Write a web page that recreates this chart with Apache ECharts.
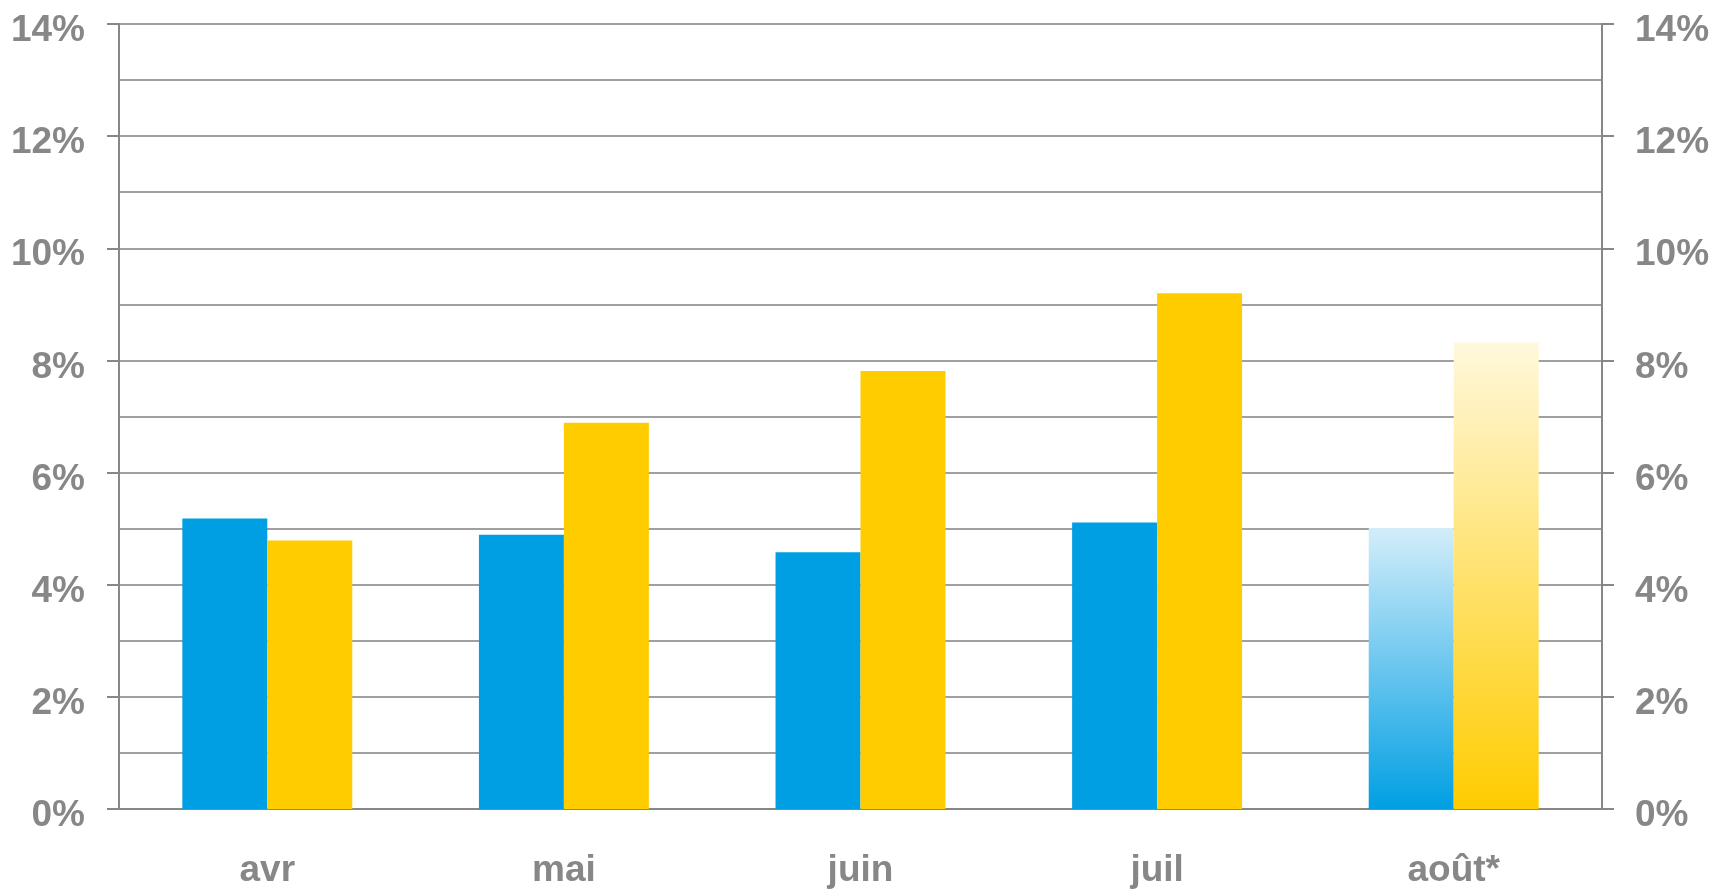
<!DOCTYPE html>
<html>
<head>
<meta charset="utf-8">
<script src="https://cdn.jsdelivr.net/npm/echarts@6/dist/echarts.min.js"></script>
<style>
html,body{margin:0;padding:0;background:#fff;}
#chart{width:1713px;height:889px;}
</style>
</head>
<body>
<div id="chart"></div>
<script>
var categories = ['avr', 'mai', 'juin', 'juil', 'août*'];
var blueValues = [5.18, 4.89, 4.58, 5.11, 5.01];
var yellowValues = [4.79, 6.89, 7.81, 9.20, 8.32];
var estimatedIndex = 4; // août* drawn with fade

var BLUE = '#009fe3', YELLOW = '#ffcc00';
var TXT = '#878787';

function grad(top, bottom) {
  return new echarts.graphic.LinearGradient(0, 0, 0, 1, [
    {offset: 0, color: top}, {offset: 1, color: bottom}
  ]);
}
function buildData(vals, color, topColor) {
  return vals.map(function (v, i) {
    if (i === estimatedIndex) {
      return {value: v, itemStyle: {color: grad(topColor, color)}};
    }
    return v;
  });
}

var labelStyle = {color: TXT, fontSize: 37, fontWeight: 'bold', fontFamily: 'Liberation Sans, Arial, sans-serif'};

var yBase = {
  type: 'value', min: 0, max: 14, interval: 2,
  axisLine: {show: true, lineStyle: {color: TXT, width: 2}},
  axisTick: {show: true, length: 12, lineStyle: {color: TXT, width: 2}},
  minorTick: {show: false, splitNumber: 2}
};

var chart = echarts.init(document.getElementById('chart'), null, {renderer: 'canvas'});
chart.setOption({
  animation: false,
  backgroundColor: '#fff',
  grid: {left: 119, right: 111, top: 24, bottom: 79, containLabel: false},
  xAxis: {
    type: 'category', data: categories,
    axisLine: {show: true, lineStyle: {color: TXT, width: 2}},
    axisTick: {show: false},
    axisLabel: Object.assign({margin: 43}, labelStyle)
  },
  yAxis: [
    Object.assign({}, yBase, {
      position: 'left',
      axisLabel: Object.assign({margin: 34, verticalAlign: 'top', lineHeight: 14, formatter: '{value}%'}, labelStyle),
      splitLine: {show: true, lineStyle: {color: '#a0a0a0', width: 2}},
      minorSplitLine: {show: true, lineStyle: {color: '#a0a0a0', width: 2}}
    }),
    Object.assign({}, yBase, {
      position: 'right',
      axisLabel: Object.assign({margin: 33, verticalAlign: 'top', lineHeight: 14, formatter: '{value}%'}, labelStyle),
      splitLine: {show: false},
      minorSplitLine: {show: false}
    })
  ],
  series: [
    {type: 'bar', name: 'bleu', data: buildData(blueValues, BLUE, '#d3edfa'),
     itemStyle: {color: BLUE}, barGap: '0%', barCategoryGap: '42.7%'},
    {type: 'bar', name: 'jaune', data: buildData(yellowValues, YELLOW, '#fff8dc'),
     itemStyle: {color: YELLOW}, barGap: '0%', barCategoryGap: '42.7%'}
  ]
});
</script>
</body>
</html>
